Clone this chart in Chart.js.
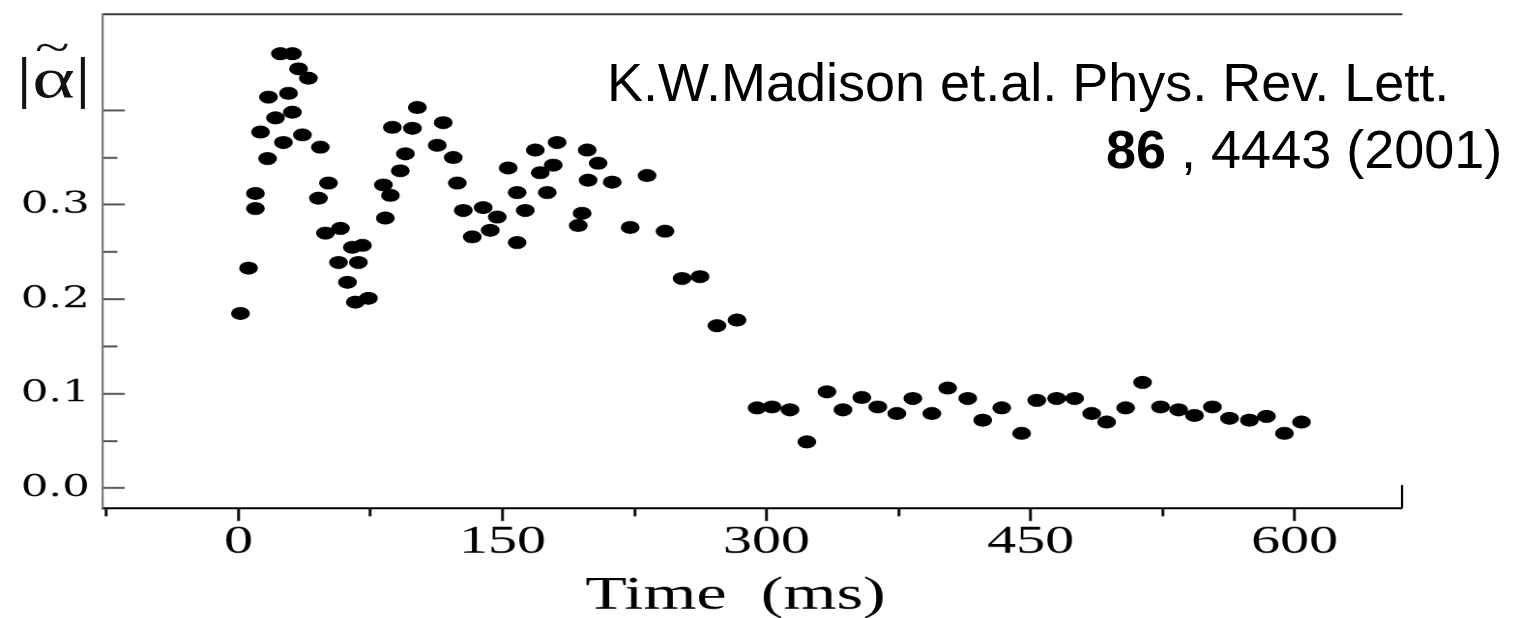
<!DOCTYPE html>
<html>
<head>
<meta charset="utf-8">
<script src="https://cdn.jsdelivr.net/npm/chart.js@4.4.1/dist/chart.umd.min.js"></script>
<style>
  html, body { margin: 0; padding: 0; background: #fff; overflow: hidden; }
  #page { position: relative; width: 1517px; height: 618px; }
  /* the original figure is stretched sideways, so the chart is drawn narrow and scaled */
  #wrap { position: absolute; left: 0; top: 0; width: 1046px; height: 618px;
          transform: scaleX(1.45029); transform-origin: 0 0; }
  #ylab { position: absolute; left: 11px; top: 50px; font: 56px/56px "Liberation Serif", serif;
          color: #111; white-space: pre; }
  #ylab .a { position: relative; display: inline-block; }
  #ylab .t { position: absolute; left: 2px; top: -30px; font-size: 44px; }
  .cite { position: absolute; font: 54px/54px "Liberation Sans", Arial, sans-serif;
          color: #000; white-space: pre; }
</style>
</head>
<body>
<div id="page">
  <div id="wrap">
    <canvas id="chart_madison" width="1046" height="618" style="width:1046px;height:618px"></canvas>
    <div id="ylab">|<span class="a">α<span class="t">~</span></span>|</div>
  </div>
  <div class="cite" style="left:607px;top:55px">K.W.Madison et.al. Phys. Rev. Lett.</div>
  <div class="cite" style="left:1106px;top:122px"><b>86</b> , 4443 (2001)</div>
</div>
<script>
// time (ms) and |alpha~|
var times = [
    1.1, 5.7, 9.6, 9.6, 12.5, 16.5, 17.0, 21.0, 23.8, 25.5,
    28.4, 30.6, 30.6, 34.1, 36.3, 39.7, 46.5, 45.4, 51.1, 49.4,
    57.9, 70.4, 56.8, 68.1, 61.9, 66.4, 73.8, 64.7,
    82.3, 86.3, 83.4, 87.4, 91.9, 94.8, 98.8, 101.6, 116.3, 112.9,
    122.0, 124.3, 127.7, 132.8, 139.0, 147.0, 143.0, 158.3, 162.9, 158.3,
    175.4, 153.2, 168.6, 181.0, 178.8, 171.4, 198.1, 204.3, 198.6, 195.2,
    193.0, 212.3, 232.1, 222.5, 242.3, 252.0, 262.2, 271.8, 283.2,
    294.6, 303.1, 313.3, 322.9, 334.3, 343.4, 354.1, 363.2, 374.0, 383.1,
    393.9, 402.9, 414.3, 422.8, 433.6, 444.9, 453.5, 464.8, 475.0, 484.7,
    493.2, 504.0, 513.6, 523.8, 534.1, 543.1, 553.3, 563.0, 574.3, 584.0,
    594.2, 603.9
];
var alpha = [
    0.185, 0.233, 0.312, 0.296, 0.377, 0.349, 0.414, 0.392, 0.460, 0.366,
    0.418, 0.460, 0.398, 0.444, 0.374, 0.434, 0.361, 0.307, 0.323, 0.270,
    0.275, 0.257, 0.239, 0.239, 0.218, 0.197, 0.201, 0.255,
    0.321, 0.310, 0.286, 0.382, 0.336, 0.354, 0.381, 0.403, 0.387, 0.363,
    0.350, 0.323, 0.294, 0.266, 0.297, 0.287, 0.273, 0.260, 0.294, 0.313,
    0.313, 0.339, 0.358, 0.366, 0.342, 0.334, 0.358, 0.344, 0.326, 0.291,
    0.278, 0.324, 0.331, 0.276, 0.272, 0.222, 0.224, 0.172, 0.178,
    0.085, 0.086, 0.083, 0.049, 0.102, 0.083, 0.096, 0.086, 0.079, 0.095,
    0.079, 0.106, 0.095, 0.072, 0.085, 0.058, 0.093, 0.095, 0.095, 0.079,
    0.070, 0.085, 0.112, 0.086, 0.083, 0.077, 0.086, 0.074, 0.072, 0.076,
    0.058, 0.070
];
var xMin = -77, xMax = 661, xStep = 75, xLabelEvery = 150;
var yMin = -0.021, yMax = 0.502, yStep = 0.05, yTickTop = 0.4, yLabelTop = 0.3;

var points = times.map(function (t, i) { return { x: t, y: alpha[i] }; });

function isMajorY(v) { return Math.abs(v * 10 - Math.round(v * 10)) < 1e-6; }

// keep label overhang from pushing the plot area around
function noPad(s) { s.paddingTop = 0; s.paddingBottom = 0; s.paddingLeft = 0; s.paddingRight = 0; }

var chart_madison = new Chart(document.getElementById('chart_madison'), {
    type: 'scatter',
    data: {
        datasets: [{
            label: '|α̃|',
            data: points,
            xAxisID: 'x',
            yAxisID: 'y',
            pointRadius: 6,
            pointBorderWidth: 1,
            pointBackgroundColor: '#000',
            pointBorderColor: '#000',
            showLine: false
        }]
    },
    options: {
        animation: false,
        responsive: false,
        devicePixelRatio: 1.5,
        layout: { padding: { left: 0, right: 79.3, top: 14, bottom: 0 } },
        plugins: {
            legend: { display: false },
            tooltip: { enabled: false }
        },
        scales: {
            x: {
                type: 'linear',
                position: 'bottom',
                min: xMin,
                max: xMax,
                afterFit: function (s) { s.height = 110; noPad(s); },
                border: { display: true, color: '#000', width: 2 },
                grid: {
                    drawOnChartArea: false,
                    drawTicks: true,
                    tickLength: 13,
                    tickWidth: 2,
                    tickColor: '#111',
                    tickBorderDash: function (c) {
                        return (c.tick && c.tick.value % xLabelEvery === 0) ? [] : [7, 100];
                    }
                },
                ticks: {
                    stepSize: xStep,
                    includeBounds: false,
                    autoSkip: false,
                    maxRotation: 0,
                    padding: -3,
                    color: '#000',
                    font: { family: 'Liberation Serif', size: 40 },
                    callback: function (v) {
                        return (v >= 0 && v % xLabelEvery === 0) ? String(v) : '';
                    }
                },
                title: {
                    display: true,
                    text: 'Time  (ms)  ',
                    color: '#000',
                    font: { family: 'Liberation Serif', size: 47, lineHeight: 1 },
                    padding: { top: 0, bottom: -2 }
                }
            },
            x2: {
                type: 'linear',
                position: 'top',
                min: xMin,
                max: xMax,
                afterFit: function (s) { s.height = 0; noPad(s); },
                border: { display: true, color: '#3a3a3a', width: 2 },
                grid: { drawOnChartArea: false, drawTicks: false },
                ticks: { display: false }
            },
            y: {
                type: 'linear',
                position: 'left',
                min: yMin,
                max: yMax,
                afterFit: function (s) { s.width = 71; noPad(s); },
                afterBuildTicks: function (s) {
                    s.ticks = s.ticks.filter(function (t) { return t.value <= yTickTop + 1e-9; });
                },
                border: { display: true, color: '#7a7a7a', width: 1.5 },
                grid: {
                    drawOnChartArea: false,
                    drawTicks: true,
                    tickLength: -15,
                    tickWidth: 2,
                    tickColor: '#555',
                    tickBorderDash: function (c) {
                        return (c.tick && isMajorY(c.tick.value)) ? [] : [0, 5, 10, 100];
                    }
                },
                ticks: {
                    stepSize: yStep,
                    includeBounds: false,
                    autoSkip: false,
                    padding: 24,
                    color: '#000',
                    font: { family: 'DejaVu Serif', size: 30 },
                    callback: function (v) {
                        var r = Math.round(v * 100) / 100;
                        return (isMajorY(r) && r <= yLabelTop + 1e-9) ? r.toFixed(1) : '';
                    }
                }
            }
        }
    },
    plugins: [{
        id: 'rightEndTick',
        afterDraw: function (chart) {
            var a = chart.chartArea, ctx = chart.ctx;
            ctx.save();
            ctx.strokeStyle = '#000';
            ctx.lineWidth = 1.5;
            ctx.beginPath();
            ctx.moveTo(a.right, a.bottom);
            ctx.lineTo(a.right, a.bottom - 23);
            ctx.stroke();
            ctx.restore();
        }
    }]
});
</script>
</body>
</html>
